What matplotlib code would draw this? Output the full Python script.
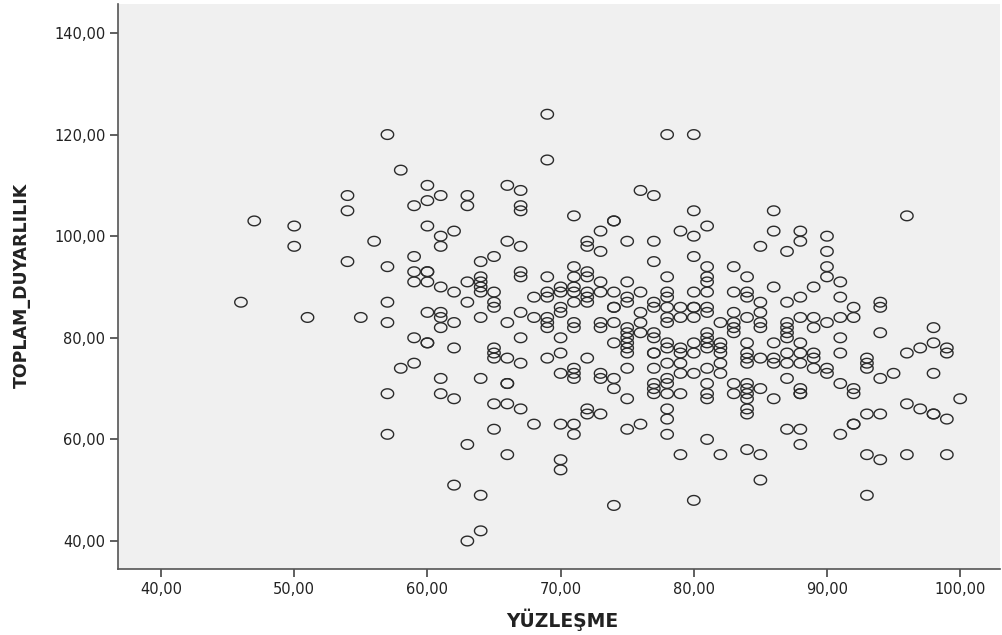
import numpy as np
import matplotlib.pyplot as plt
from matplotlib.path import Path
from matplotlib.ticker import FuncFormatter

# YÜZLEŞME (x) and TOPLAM_DUYARLILIK (y)
yuzlesme = [
    47, 50, 50, 46, 51,
    69, 57, 69, 58, 60, 66, 67, 54, 61, 63, 60, 59, 63, 67, 67, 54, 60, 62, 61, 56,
    66, 67, 61, 59, 65, 64, 54, 57,
    78, 80, 76, 77, 71, 80, 86, 74, 74, 73, 79, 81, 80, 86, 72, 72, 73, 75, 77, 85,
    77, 80, 81, 83,
    96, 88, 88, 90, 87, 90, 90,
    59, 60, 60, 59, 60, 61, 62, 63, 64, 64, 64, 64, 65, 65, 65, 63, 67, 67, 69, 68,
    69, 69, 57, 55, 57, 60, 61, 61, 61, 62, 64, 66, 67, 68, 69, 69, 69, 59, 60, 60,
    62, 67, 65, 65, 65, 66, 67, 69, 58, 59, 61, 64, 66, 66, 57, 61, 62, 65, 66, 67, 68,
    57, 65, 63, 66, 62, 64, 64, 63,
    70, 71, 71, 70, 70, 74, 75, 76, 78, 78, 81, 79, 82, 80, 84, 85, 85,
    87, 88, 88, 91, 92, 93, 94, 93, 96, 99,
    71, 71, 72, 72, 73, 75, 78, 81, 81, 84, 70, 70, 71, 71, 72, 72, 72, 73, 74, 75,
    75, 76, 78, 78, 80, 81, 83, 84, 84, 85, 85, 85, 85, 71, 74, 74, 70, 70, 77, 77,
    78, 78, 78, 79, 79, 80, 80, 80, 81, 81, 83, 84, 71, 71, 73, 73, 74, 75, 75, 75,
    75, 76, 76, 76, 77, 77, 82, 83, 83, 83, 70, 74, 78, 78, 79, 79, 80, 80, 81, 81,
    81, 81, 82, 82, 82, 84, 84, 84, 84, 85, 70, 72, 75, 75, 77, 77, 78, 79, 81, 82,
    82, 71, 71, 71, 70, 73, 73, 74, 74, 75, 77, 78, 78, 79, 80, 81, 81, 81, 77, 77,
    77, 78, 79, 83, 83, 84, 84, 84, 84, 84, 84, 85, 75, 72, 72, 73, 78,
    90, 91, 86, 89, 88, 87, 91, 92, 94, 94, 88, 89, 89, 90, 91, 92, 87, 87, 87, 87,
    86, 88, 91, 94, 98, 98, 97, 96, 99, 99, 87, 88, 89, 89, 91, 86, 86, 87, 88, 89,
    90, 90, 93, 93, 93, 95, 94, 98, 87, 91, 88, 88, 88, 92, 92, 86, 100, 96, 97, 98,
    98, 99, 93, 94, 92,
]
toplam = [
    103, 102, 98, 87, 84,
    124, 120, 115, 113, 110, 110, 109, 108, 108, 108, 107, 106, 106, 106, 105, 105, 102, 101, 100, 99,
    99, 98, 98, 96, 96, 95, 95, 94,
    120, 120, 109, 108, 104, 105, 105, 103, 103, 101, 101, 102, 100, 101, 99, 98, 97, 99, 99, 98,
    95, 96, 94, 94,
    104, 101, 99, 100, 97, 97, 94,
    93, 93, 93, 91, 91, 90, 89, 91, 92, 91, 90, 89, 89, 87, 86, 87, 93, 92, 92, 88,
    89, 88, 87, 84, 83, 85, 85, 84, 82, 83, 84, 83, 85, 84, 84, 83, 82, 80, 79, 79,
    78, 80, 78, 77, 76, 76, 75, 76, 74, 75, 72, 72, 71, 71, 69, 69, 68, 67, 67, 66, 63,
    61, 62, 59, 57, 51, 49, 42, 40,
    63, 63, 61, 56, 54, 47, 62, 63, 64, 61, 60, 57, 57, 48, 58, 57, 52,
    62, 62, 59, 61, 63, 57, 56, 49, 57, 57,
    94, 92, 93, 92, 91, 91, 92, 92, 91, 92, 90, 89, 90, 89, 89, 88, 87, 89, 89, 88,
    87, 89, 89, 88, 89, 89, 89, 89, 88, 87, 85, 83, 82, 87, 86, 86, 86, 85, 87, 86,
    86, 84, 83, 86, 84, 86, 86, 84, 86, 85, 85, 84, 83, 82, 83, 82, 83, 82, 81, 80,
    79, 85, 83, 81, 81, 80, 83, 83, 82, 81, 80, 79, 79, 78, 78, 77, 79, 77, 81, 80,
    79, 78, 79, 78, 77, 79, 77, 76, 75, 76, 77, 76, 78, 77, 77, 77, 75, 75, 74, 75,
    73, 74, 73, 72, 73, 73, 72, 72, 70, 74, 74, 72, 71, 73, 73, 71, 69, 68, 71, 70,
    69, 69, 69, 71, 69, 71, 70, 69, 68, 66, 65, 70, 68, 66, 65, 65, 66,
    92, 91, 90, 90, 88, 87, 88, 86, 87, 86, 84, 84, 82, 83, 84, 84, 83, 82, 81, 80,
    79, 79, 80, 81, 82, 79, 78, 77, 78, 77, 77, 77, 77, 76, 77, 76, 75, 75, 75, 74,
    74, 73, 76, 75, 74, 73, 72, 73, 72, 71, 70, 69, 69, 70, 69, 68, 68, 67, 66, 65,
    65, 64, 65, 65, 63,
]

# slightly flattened open circle, like the SPSS marker
t = np.linspace(0, 2 * np.pi, 60)
ring = Path(np.column_stack([np.cos(t), 0.78 * np.sin(t)]))

fig = plt.figure(figsize=(10.02, 6.35), dpi=100)
ax = fig.add_axes([118 / 1002, 66 / 635, 882 / 1002, 565 / 635])
ax.set_facecolor('#f0f0f0')

ax.scatter(yuzlesme, toplam, marker=ring, s=80, facecolors='none',
           edgecolors='#2b2b2b', linewidths=1.0)

ax.set_xlim(36.77, 102.99)
ax.set_ylim(34.49, 145.7)
ax.set_xticks(np.arange(40, 101, 10))
ax.set_yticks(np.arange(40, 141, 20))
fmt = FuncFormatter(lambda v, p: ('%.2f' % v).replace('.', ','))
ax.xaxis.set_major_formatter(fmt)
ax.yaxis.set_major_formatter(fmt)
ax.tick_params(labelsize=10.5, length=6, width=1.2, color='#444444', pad=3,
               labelcolor='#222222')

for s in ['top', 'right']:
    ax.spines[s].set_visible(False)
for s in ['left', 'bottom']:
    ax.spines[s].set_color('#555555')
    ax.spines[s].set_linewidth(1.2)

fig.text(562 / 1002, 1 - 620 / 635, 'YÜZLEŞME', fontsize=13.5, fontweight='bold',
         ha='center', va='center', color='#222222')
fig.text(22 / 1002, 1 - 285 / 635, 'TOPLAM_DUYARLILIK', fontsize=12.5, fontweight='bold',
         ha='center', va='center', rotation=90, color='#222222')

plt.savefig('out.png', dpi=100)
